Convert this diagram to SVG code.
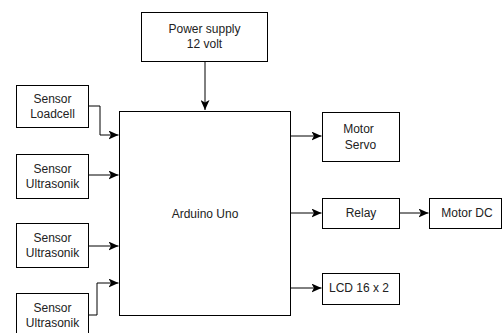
<svg xmlns="http://www.w3.org/2000/svg" width="502" height="333" viewBox="0 0 502 333">
<style>
.box{fill:#fff;stroke:#000;stroke-width:1}
.t{font-family:"Liberation Sans",Arial,sans-serif;font-size:12px;fill:#222;text-anchor:middle}
.c{fill:none;stroke:#000;stroke-width:1}
</style>
<defs>
<marker id="ah" markerWidth="11" markerHeight="9" refX="10" refY="4.5" orient="auto" markerUnits="userSpaceOnUse">
<path d="M0,0 L10,4.5 L0,9 L2.5,4.5 z" fill="#000"/>
</marker>
</defs>
<rect width="502" height="333" fill="#fff"/>
<g id="connectors">
<path class="c" d="M205,61 V110" marker-end="url(#ah)"/>
<path class="c" d="M88,106 H100 V135 H118.5" marker-end="url(#ah)"/>
<path class="c" d="M88,175 H118.5" marker-end="url(#ah)"/>
<path class="c" d="M88,246 H118.5" marker-end="url(#ah)"/>
<path class="c" d="M88,315 H97 V283 H118.5" marker-end="url(#ah)"/>
<path class="c" d="M291,136 H321.5" marker-end="url(#ah)"/>
<path class="c" d="M291,213 H321.5" marker-end="url(#ah)"/>
<path class="c" d="M399,213 H428.5" marker-end="url(#ah)"/>
<path class="c" d="M291,288 H321.5" marker-end="url(#ah)"/>
</g>
<g id="power">
<rect class="box" x="141.5" y="12.5" width="126" height="49"/>
<text class="t" x="204.5" y="33">Power supply</text>
<text class="t" x="204.5" y="48">12 volt</text>
</g>
<g id="arduino">
<rect class="box" x="119.5" y="111.5" width="171" height="204"/>
<text class="t" x="205" y="218">Arduino Uno</text>
</g>
<g id="loadcell">
<rect class="box" x="16.5" y="85.5" width="72" height="42"/>
<text class="t" x="52.5" y="103">Sensor</text>
<text class="t" x="52.5" y="118">Loadcell</text>
</g>
<g id="ultra1">
<rect class="box" x="16.5" y="154.5" width="72" height="44"/>
<text class="t" x="52.5" y="173">Sensor</text>
<text class="t" x="52.5" y="188">Ultrasonik</text>
</g>
<g id="ultra2">
<rect class="box" x="16.5" y="223.5" width="72" height="44"/>
<text class="t" x="52.5" y="242">Sensor</text>
<text class="t" x="52.5" y="257">Ultrasonik</text>
</g>
<g id="ultra3">
<rect class="box" x="16.5" y="293.5" width="72" height="44"/>
<text class="t" x="52.5" y="312">Sensor</text>
<text class="t" x="52.5" y="327">Ultrasonik</text>
</g>
<g id="servo">
<rect class="box" x="322.5" y="112.5" width="77" height="49"/>
<text class="t" x="358.5" y="133">Motor</text>
<text class="t" x="360.5" y="149">Servo</text>
</g>
<g id="relay">
<rect class="box" x="322.5" y="198.5" width="77" height="30"/>
<text class="t" x="361" y="217">Relay</text>
</g>
<g id="motordc">
<rect class="box" x="429.5" y="198.5" width="72" height="30"/>
<text class="t" x="467" y="217">Motor DC</text>
</g>
<g id="lcd">
<rect class="box" x="322.5" y="273.5" width="77" height="31"/>
<text class="t" x="359" y="292">LCD 16 x 2</text>
</g>
</svg>
